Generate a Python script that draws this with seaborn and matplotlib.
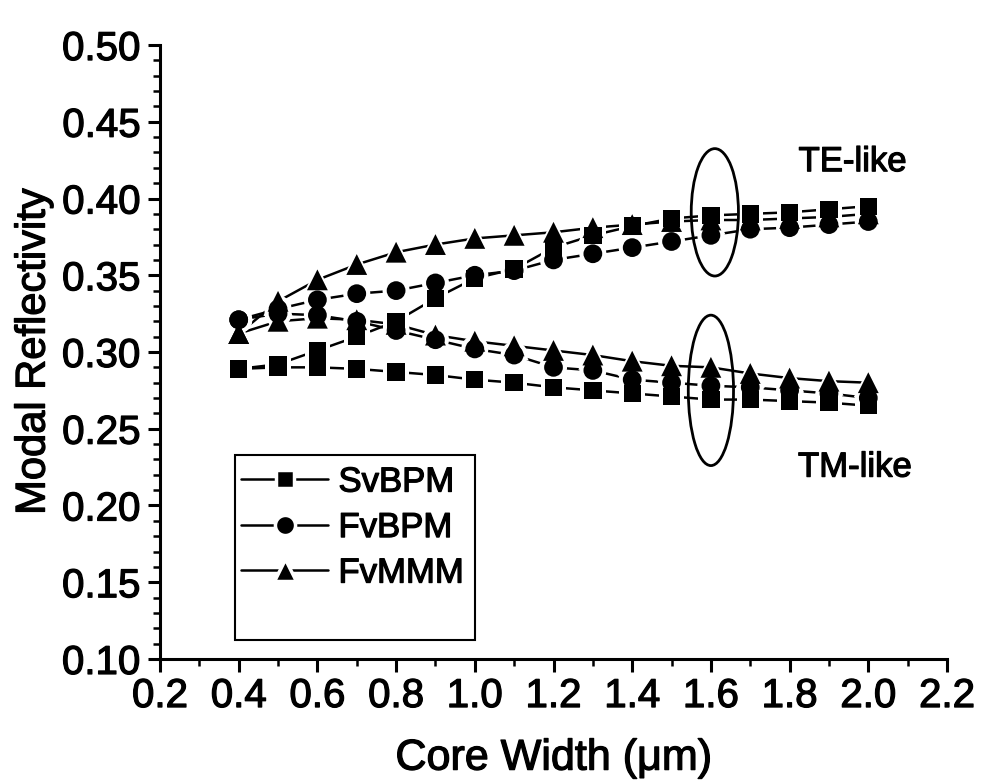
import matplotlib
matplotlib.use("Agg")
import matplotlib.pyplot as plt
import matplotlib.patheffects as pe
from matplotlib.patches import Ellipse, Rectangle
from matplotlib.lines import Line2D
from matplotlib.ticker import MultipleLocator, FormatStrFormatter
import numpy as np
import pandas as pd
import seaborn as sns

# Core widths (um)
core_width = [0.4, 0.5, 0.6, 0.7, 0.8, 0.9, 1.0, 1.1, 1.2, 1.3,
              1.4, 1.5, 1.6, 1.7, 1.8, 1.9, 2.0]

# TE-like modal reflectivity
te_svbpm = [0.289, 0.292, 0.301, 0.310, 0.320, 0.335, 0.348, 0.354, 0.368,
            0.376, 0.382, 0.387, 0.389, 0.390, 0.391, 0.393, 0.395]
te_fvbpm = [0.321, 0.328, 0.334, 0.338, 0.340, 0.345, 0.350, 0.353, 0.360,
            0.364, 0.368, 0.372, 0.376, 0.380, 0.381, 0.383, 0.385]
te_fvmmm = [0.312, 0.333, 0.347, 0.357, 0.365, 0.370, 0.374, 0.376, 0.378,
            0.381, 0.383, 0.385, 0.386, 0.386, 0.387, 0.388, 0.390]

# TM-like modal reflectivity
tm_svbpm = [0.289, 0.290, 0.290, 0.289, 0.287, 0.285, 0.282, 0.280, 0.277,
            0.275, 0.273, 0.271, 0.269, 0.269, 0.268, 0.267, 0.265]
tm_fvbpm = [0.321, 0.325, 0.324, 0.320, 0.314, 0.308, 0.302, 0.298, 0.290,
            0.288, 0.282, 0.280, 0.278, 0.277, 0.275, 0.273, 0.270]
tm_fvmmm = [0.312, 0.320, 0.322, 0.321, 0.318, 0.311, 0.307, 0.304, 0.301,
            0.298, 0.294, 0.291, 0.290, 0.286, 0.283, 0.281, 0.280]

methods = ["SvBPM", "FvBPM", "FvMMM"]
method_markers = {"SvBPM": "s", "FvBPM": "o", "FvMMM": "^"}
method_sizes = {"SvBPM": 12.5, "FvBPM": 13.5, "FvMMM": 15.0}

series = {
    ("SvBPM", "TE"): te_svbpm, ("FvBPM", "TE"): te_fvbpm, ("FvMMM", "TE"): te_fvmmm,
    ("SvBPM", "TM"): tm_svbpm, ("FvBPM", "TM"): tm_fvbpm, ("FvMMM", "TM"): tm_fvmmm,
}

rows = []
for (method, mode), vals in series.items():
    for w, r in zip(core_width, vals):
        rows.append({"width": w, "refl": r, "method": method, "mode": mode})
df = pd.DataFrame(rows)

sns.set_theme(style="ticks")
plt.rcParams["font.family"] = ["Liberation Sans", "DejaVu Sans"]
plt.rcParams["text.color"] = "black"
plt.rcParams["axes.labelcolor"] = "black"
plt.rcParams["xtick.color"] = "black"
plt.rcParams["ytick.color"] = "black"

# slightly heavier strokes for all lettering
heavy = [pe.withStroke(linewidth=0.9, foreground="black")]

fig = plt.figure(figsize=(9.84, 7.83), dpi=100)
ax = fig.add_axes([0.1626, 0.1584, 0.7998, 0.7841])

# connecting lines
for (method, mode), sub in df.groupby(["method", "mode"]):
    sns.lineplot(data=sub, x="width", y="refl", ax=ax, color="black",
                 linewidth=1.8, estimator=None, sort=True, zorder=2,
                 legend=False)

# white halos leave a small gap between lines and symbols
for method in methods:
    sub = df[df["method"] == method]
    sz = method_sizes[method] + 6
    sns.scatterplot(data=sub, x="width", y="refl", ax=ax,
                    marker=method_markers[method], s=sz ** 2, color="white",
                    edgecolor="none", linewidth=0, zorder=3, legend=False)

for method in methods:
    sub = df[df["method"] == method]
    sz = method_sizes[method]
    sns.scatterplot(data=sub, x="width", y="refl", ax=ax,
                    marker=method_markers[method], s=sz ** 2, color="black",
                    edgecolor="none", linewidth=0, zorder=4, legend=False)

# highlight ellipses around 1.6 um
ax.add_patch(Ellipse((1.61, 0.391), width=0.12, height=0.083, fill=False,
                     edgecolor="black", linewidth=2.0, zorder=5))
ax.add_patch(Ellipse((1.60, 0.275), width=0.115, height=0.098, fill=False,
                     edgecolor="black", linewidth=2.0, zorder=5))

ax.text(1.96, 0.424, "TE-like", fontsize=25, ha="center", va="center",
        path_effects=heavy)
ax.text(1.966, 0.225, "TM-like", fontsize=25, ha="center", va="center",
        path_effects=heavy)

# axes
ax.set_xlim(0.2, 2.2)
ax.set_ylim(0.10, 0.50)
ax.xaxis.set_major_locator(MultipleLocator(0.2))
ax.xaxis.set_minor_locator(MultipleLocator(0.1))
ax.yaxis.set_major_locator(MultipleLocator(0.05))
ax.yaxis.set_minor_locator(MultipleLocator(0.01))
ax.xaxis.set_major_formatter(FormatStrFormatter("%.1f"))
ax.yaxis.set_major_formatter(FormatStrFormatter("%.2f"))

for side in ["top", "right"]:
    ax.spines[side].set_visible(False)
for side in ["left", "bottom"]:
    ax.spines[side].set_linewidth(2.2)
    ax.spines[side].set_color("black")

ax.tick_params(axis="both", which="major", direction="out", length=9,
               width=2.2, labelsize=29)
ax.tick_params(axis="x", which="major", pad=4)
ax.tick_params(axis="y", which="major", pad=5)
ax.tick_params(axis="both", which="minor", direction="out", length=5,
               width=1.8)
for lbl in ax.get_xticklabels() + ax.get_yticklabels():
    lbl.set_path_effects(heavy)

ax.set_xlabel("Core Width (\u03bcm)", fontsize=31, labelpad=17,
              path_effects=heavy)
ax.set_ylabel("Modal Reflectivity", fontsize=30, labelpad=6,
              path_effects=heavy)

# legend inside a framed box
ax.add_patch(Rectangle((0.095, 0.031), 0.305, 0.301, transform=ax.transAxes,
                       fill=False, edgecolor="black", linewidth=1.5, zorder=6))
handles = [Line2D([], [], color="black", linewidth=1.8,
                  marker=method_markers[m], markersize=method_sizes[m] + 1,
                  markerfacecolor="black", markeredgecolor="white",
                  markeredgewidth=2.5)
           for m in methods]
leg = ax.legend(handles, methods, loc="upper left",
                bbox_to_anchor=(0.09, 0.332), frameon=False, fontsize=25,
                handlelength=2.5, handletextpad=0.3, labelspacing=0.36,
                borderaxespad=0.0, borderpad=0.3)
for t in leg.get_texts():
    t.set_path_effects(heavy)

fig.savefig("out.png", dpi=100, facecolor="white")
